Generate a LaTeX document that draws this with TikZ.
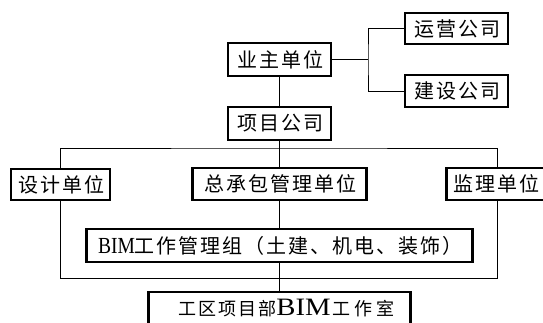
\documentclass[tikz,border=0pt]{standalone}
\usepackage{fontspec}
\setmainfont{Liberation Serif}
\newfontfamily\cjk[LetterSpace=10]{Noto Sans CJK SC}
\newfontfamily\cjkn[LetterSpace=11]{Noto Sans CJK SC}
\newfontfamily\cjkw[LetterSpace=22]{Noto Sans CJK SC}
\newcommand\ctx[1]{{\cjk #1}}
\newcommand\tailkern{\kern-2pt}
\tikzset{
  box/.style={draw, line width=2.2pt, inner sep=0pt, align=center,
    font=\fontsize{20}{22}\selectfont},
  conn/.style={line width=0.9pt}
}
\begin{document}
\begin{tikzpicture}[x=1pt,y=-1pt]
\useasboundingbox (0,0) rectangle (543,322);
\clip (0,0) rectangle (543,322);
\fill[white] (0,0) rectangle (543,322);
\node[box, minimum width=103pt, minimum height=33pt] (yezhu) at (279.5,59.5) {\ctx{业主单位}\tailkern};
\node[box, minimum width=103pt, minimum height=31pt] (yunying) at (456.5,28.5) {\ctx{运营公司}\tailkern};
\node[box, minimum width=103pt, minimum height=32pt] (jianshe) at (456.5,91) {\ctx{建设公司}\tailkern};
\node[box, minimum width=103pt, minimum height=33pt] (xiangmu) at (279.5,123.5) {\ctx{项目公司}\tailkern};
\node[box, minimum width=99pt, minimum height=31pt] (sheji) at (60.5,184.5) {\ctx{设计单位}\tailkern};
\node[box, minimum width=174pt, minimum height=32pt] (zong) at (279.5,184) {\ctx{总承包管理单位}\tailkern};
\node[box, minimum width=102pt, minimum height=32pt] (jianli) at (497.5,184) {\ctx{监理单位}\tailkern\hspace{4pt}};
\node[box, minimum width=386pt, minimum height=33pt] (bim) at (279.5,245.5) {\scalebox{0.85}[1]{\rmfamily\fontsize{23}{24}\selectfont BIM}\ctx{工作管理组（土建、机电、装饰）}\tailkern};
\node[box, minimum width=262pt, minimum height=33pt] (gq) at (279.5,308.5) {\hspace{10pt}{\cjkn\fontsize{18}{20}\selectfont 工区项目部}\scalebox{1.15}[1]{\rmfamily\fontsize{25}{26}\selectfont BIM}\kern2pt{\cjkw\fontsize{18}{20}\selectfont 工作室}\kern-4pt};
\coordinate (j) at (368,59.5);
\coordinate (t) at (279.5,148);
\coordinate (b) at (279.5,278.5);
\draw[conn] (yezhu.east) -- (j);
\draw[conn] (yunying.west) -| (j) |- (jianshe.west);
\draw[conn] (yezhu.south) -- (xiangmu.north);
\draw[conn] (xiangmu.south) -- (zong.north);
\draw[conn] (sheji.north) |- (t) -| (jianli.north);
\draw[conn] (zong.south) -- (bim.north);
\draw[conn] (bim.south) -- (gq.north);
\draw[conn] (sheji.south) |- (b) -| (jianli.south);
\end{tikzpicture}
\end{document}
